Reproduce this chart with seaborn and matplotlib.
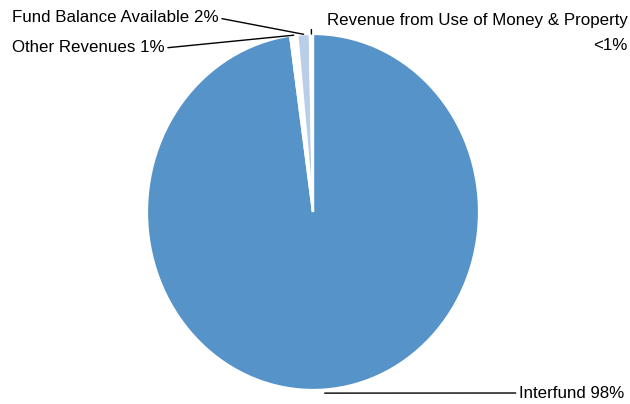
import matplotlib
matplotlib.use("Agg")
import matplotlib.pyplot as plt
import numpy as np
import seaborn as sns

# slice order: clockwise from 12 o'clock
categories = ["Interfund", "Other Revenues", "Fund Balance Available",
              "Revenue from Use of Money & Property"]
shares = [97.8, 0.7, 1.2, 0.3]
labels = ["Interfund 98%", "Other Revenues 1%", "Fund Balance Available 2%",
          "Revenue from Use of Money & Property\n<1%"]
colors = ["#5593C9", "#FFFFFF", "#B9CEE8", "#FFFFFF"]

sns.set_theme(style="white")
plt.rcParams["font.family"] = ["Liberation Sans", "DejaVu Sans"]
plt.rcParams["text.color"] = "black"

fig = plt.figure(figsize=(6.3, 4.04), dpi=100)
ax = fig.add_axes([147 / 630, 14 / 404, 332 / 630, 356 / 404])
wedges, _ = ax.pie(shares, colors=colors, startangle=90, counterclock=False,
                   wedgeprops=dict(edgecolor="white", linewidth=1.6))
ax.set_aspect("auto")
ax.set_xlim(-1, 1)
ax.set_ylim(-1, 1)


def edge_point(w, r=1.0):
    ang = np.deg2rad((w.theta1 + w.theta2) / 2)
    return r * np.cos(ang), r * np.sin(ang)


fs = 12.2
line = dict(arrowstyle="-", color="black", lw=1, shrinkA=0, shrinkB=0)

# Interfund
ax.annotate(labels[0], xy=edge_point(wedges[0], 1.02), xytext=(519, 11),
            textcoords="figure pixels", ha="left", va="center", fontsize=fs,
            annotation_clip=False, arrowprops=dict(line, relpos=(0, 0.5)))
# Other Revenues
ax.annotate(labels[1], xy=edge_point(wedges[1], 1.0), xytext=(12, 356),
            textcoords="figure pixels", ha="left", va="center", fontsize=fs,
            annotation_clip=False, arrowprops=dict(line, relpos=(1, 0.5)))
# Fund Balance
ax.annotate(labels[2], xy=edge_point(wedges[2], 1.0), xytext=(12, 386),
            textcoords="figure pixels", ha="left", va="center", fontsize=fs,
            annotation_clip=False, arrowprops=dict(line, relpos=(1, 0.5)))
# Revenue from Use of Money & Property
ax.annotate("", xy=edge_point(wedges[3], 1.0), xytext=edge_point(wedges[3], 1.025),
            annotation_clip=False, arrowprops=line)
fig.text(628 / 630, 371 / 404, labels[3], ha="right", va="center",
         fontsize=fs, multialignment="right", linespacing=1.85)

fig.savefig("out.png", dpi=100)
